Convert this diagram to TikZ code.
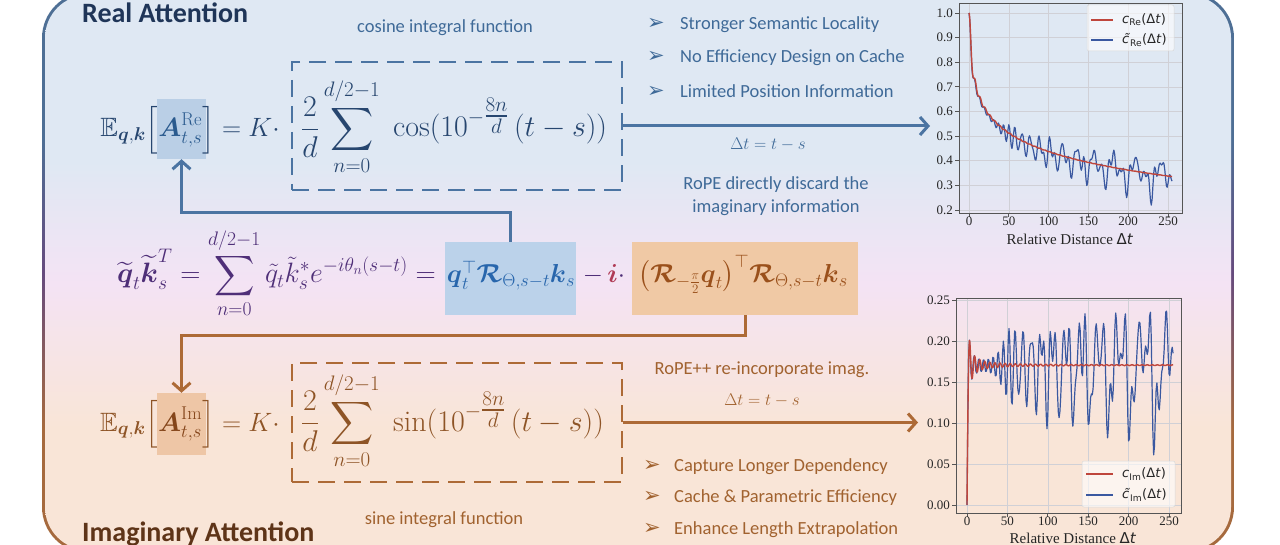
\RequirePackage{fix-cm}
\documentclass[tikz,border=0pt]{standalone}
\usepackage{amsmath,amssymb}
\usepackage{fontspec}
\newfontfamily\carlito{Carlito}
\newfontfamily\dejavu{DejaVu Sans}
\newfontfamily\libserif{Liberation Serif}
\usetikzlibrary{arrows.meta}

\definecolor{cNavy}{HTML}{1F3558}
\definecolor{cDarkBrown}{HTML}{5E3418}
\definecolor{cBlueTxt}{HTML}{3F6A98}
\definecolor{cBrownTxt}{HTML}{A1622F}
\definecolor{cBlueMath}{HTML}{27466F}
\definecolor{cBlueA}{HTML}{2A5A8E}
\definecolor{cBrownMath}{HTML}{8E5426}
\definecolor{cBrownA}{HTML}{84451A}
\definecolor{cPurple}{HTML}{4F2F78}
\definecolor{cBlueHL}{HTML}{BBD2EA}
\definecolor{cBlueBold}{HTML}{2866AC}
\definecolor{cOrangeHL}{HTML}{F0C9A5}
\definecolor{cOrangeTxt}{HTML}{9A501B}
\definecolor{cRedI}{HTML}{B03A55}
\definecolor{cBlueLine}{HTML}{4B74A2}
\definecolor{cBrownLine}{HTML}{AD6A36}
\definecolor{cHLRe}{HTML}{BACFE6}
\definecolor{cHLIm}{HTML}{EEC6A6}
\definecolor{bgTop}{HTML}{DFE8F3}
\definecolor{bgMid}{HTML}{F4E3F4}
\definecolor{bgBot}{HTML}{F9E5D7}
\definecolor{bordTop}{HTML}{4E6F95}
\definecolor{bordMid}{HTML}{664B7E}
\definecolor{bordBot}{HTML}{A66A3E}
\definecolor{plRed}{HTML}{BF463C}
\definecolor{plBlue}{HTML}{3A58A0}
\definecolor{plGrid}{HTML}{D0D0D6}
\definecolor{plFrame}{HTML}{555555}

\pgfdeclareverticalshading{bgshade}{100bp}{color(0bp)=(bgBot); color(36bp)=(bgBot); color(49bp)=(bgMid); color(60bp)=(bgTop); color(100bp)=(bgTop)}
\pgfdeclareverticalshading{bordshade}{100bp}{color(0bp)=(bordBot); color(36bp)=(bordBot); color(50bp)=(bordMid); color(62bp)=(bordTop); color(100bp)=(bordTop)}

\makeatletter
\newcount\rp@n
\newdimen\rp@c
\newdimen\rp@s
\rp@n=0
\loop
  \pgfmathparse{57.29578*exp(-0.1439115*\the\rp@n)}%
  \expandafter\xdef\csname rpth@\the\rp@n\endcsname{\pgfmathresult}%
  \advance\rp@n by 1
\ifnum\rp@n<64 \repeat
\gdef\rpBlueRe{(0,1)}
\gdef\rpBlueIm{(0,0)}
\foreach \t in {1,...,255}{%
  \rp@c=0pt \rp@s=0pt \rp@n=0
  \loop
    \pgfmathmultiply@{\t}{\csname rpth@\the\rp@n\endcsname}%
    \let\rp@ang\pgfmathresult
    \pgfmathcos@{\rp@ang}\advance\rp@c by \pgfmathresult pt\relax
    \pgfmathsin@{\rp@ang}\advance\rp@s by \pgfmathresult pt\relax
    \advance\rp@n by 1
  \ifnum\rp@n<64 \repeat
  \divide\rp@c by 64
  \divide\rp@s by 64
  \xdef\rpBlueRe{\rpBlueRe (\t,\strip@pt\rp@c)}%
  \xdef\rpBlueIm{\rpBlueIm (\t,\strip@pt\rp@s)}%
}
\gdef\rpRedRe{(0,1)}
\gdef\rpRedIm{(0,0)}
\foreach \t in {0.25,0.5,0.75}{%
  \pgfmathsetmacro\rp@si{\t-\t^3/18+\t^5/600}%
  \pgfmathsetmacro\rp@cin{\t^2/4-\t^4/96+\t^6/4320}%
  \pgfmathsetmacro\rp@re{1-\rp@cin/9.21034}%
  \pgfmathsetmacro\rp@im{\rp@si/9.21034}%
  \xdef\rpRedRe{\rpRedRe (\t,\rp@re)}\xdef\rpRedIm{\rpRedIm (\t,\rp@im)}%
}
\def\rp@redpt#1{%
  \pgfmathsetmacro\rp@v{1/#1}%
  \pgfmathsetmacro\rp@u{\rp@v*\rp@v}%
  \pgfmathsetmacro\rp@f{\rp@v*(1+7.241163*\rp@u+2.463936*\rp@u*\rp@u)/(1+9.068580*\rp@u+7.157433*\rp@u*\rp@u)}%
  \pgfmathsetmacro\rp@g{\rp@u*(1+7.547478*\rp@u+1.564072*\rp@u*\rp@u)/(1+12.723684*\rp@u+15.723606*\rp@u*\rp@u)}%
  \pgfmathsetmacro\rp@cs{cos(#1*57.29578)}%
  \pgfmathsetmacro\rp@sn{sin(#1*57.29578)}%
  \pgfmathsetmacro\rp@re{1-(0.577216+ln(#1)-\rp@f*\rp@sn+\rp@g*\rp@cs)/9.21034}%
  \pgfmathsetmacro\rp@im{(1.570796-\rp@f*\rp@cs-\rp@g*\rp@sn)/9.21034}%
  \xdef\rpRedRe{\rpRedRe (#1,\rp@re)}\xdef\rpRedIm{\rpRedIm (#1,\rp@im)}%
}
\foreach \t in {1,1.5,...,20}{\rp@redpt{\t}}
\foreach \t in {21,...,255}{\rp@redpt{\t}}
\newcommand\rpplot[2]{\edef\rp@tmp{\noexpand\draw[#1] plot coordinates {#2};}\rp@tmp}
\makeatother

\newcommand\bul[2]{\makebox[#1][l]{\dejavu\fontsize{21}{21}\selectfont ➢}#2}
\newcommand\lgd[2]{{\dejavu #1}\textsubscript{\dejavu #2}{\dejavu(Δ\textit{t})}}
\newcommand\expo{10^{-{\textstyle\frac{8n}{d}}}}

\tikzset{
  bluec/.style={draw=cBlueLine, line width=3pt},
  brownc/.style={draw=cBrownLine, line width=3pt},
  tipa/.style={-{Straight Barb[length=8pt,width=18pt]}},
  dashbox/.style={line width=2.6pt, dash pattern=on 17pt off 9pt, inner sep=0, minimum width=330pt},
  hl/.style={inner sep=0, minimum width=49pt, minimum height=60pt},
  hibox/.style={inner sep=0, minimum height=73pt},
  title/.style={font=\carlito\bfseries\fontsize{28}{32}\selectfont, inner sep=0},
  lbl/.style={font=\carlito\fontsize{18.5}{23}\selectfont, inner sep=0},
  eqL/.style={font=\fontsize{26.5}{30}\selectfont, inner sep=0},
  eqR/.style={font=\fontsize{30}{34}\selectfont, inner sep=0},
  eqM/.style={font=\fontsize{28}{32}\selectfont, inner sep=0},
  eq/.style={font=\fontsize{26}{30}\selectfont, inner sep=0},
  eqs/.style={font=\fontsize{17}{20}\selectfont, inner sep=0},
  tick/.style={font=\libserif\fontsize{13}{15}\selectfont, inner sep=0, text=black!85},
  xlab/.style={font=\libserif\fontsize{15}{17}\selectfont, inner sep=0, text=black!85},
  lgdt/.style={font=\fontsize{13}{15}\selectfont, inner sep=0, anchor=west, text=black!85},
  gridl/.style={draw=plGrid, line width=0.6pt},
  framel/.style={draw=plFrame, line width=0.8pt},
  redline/.style={draw=plRed, line width=1.4pt, line join=round},
  blueline/.style={draw=plBlue, line width=1.2pt, line join=round},
  legbox/.style={fill=white, fill opacity=0.6, draw=black!15, line width=0.5pt, rounded corners=2pt},
}

\begin{document}
\begin{tikzpicture}[x=1pt, y=-1pt]
\useasboundingbox (0,0) rectangle (1280,545);
\fill[white] (0,0) rectangle (1280,545);
% panel
\shade[shading=bordshade, rounded corners=46pt] (42,-8) rectangle (1234,553);
\shade[shading=bgshade, rounded corners=43pt] (45,-5) rectangle (1231,550);

% titles and labels
\node[title, text=cNavy, anchor=base west] (tRe) at (82,23) {Real Attention};
\node[title, text=cDarkBrown, anchor=base west] (tIm) at (82,541) {Imaginary Attention};
\node[lbl, text=cBlueTxt] (cosl) at (445,28) {cosine integral function};
\node[lbl, text=cBrownTxt] (sinl) at (444,520) {sine integral function};

% bullets
\node[lbl, text=cBlueTxt, anchor=west] (b1) at (647,25) {\bul{33pt}{Stronger Semantic Locality}};
\node[lbl, text=cBlueTxt, anchor=west] (b2) at (647,58) {\bul{33pt}{No Efficiency Design on Cache}};
\node[lbl, text=cBlueTxt, anchor=west] (b3) at (647,91) {\bul{33pt}{Limited Position Information}};
\node[lbl, text=cBrownTxt, anchor=west] (b4) at (643,467) {\bul{31pt}{Capture Longer Dependency}};
\node[lbl, text=cBrownTxt, anchor=west] (b5) at (643,498) {\bul{31pt}{Cache \& Parametric Efficiency}};
\node[lbl, text=cBrownTxt, anchor=west] (b6) at (643,530) {\bul{31pt}{Enhance Length Extrapolation}};

\node[eqs, text=cBlueTxt] (dtRe) at (768,144) {$\Delta t = t - s$};
\node[lbl, text=cBlueTxt, align=center] (disc) at (776,196) {RoPE directly discard the\\imaginary information};
\node[lbl, text=cBrownTxt] (plus) at (762,370) {RoPE++ re-incorporate imag.};
\node[eqs, text=cBrownTxt] (dtIm) at (762,400) {$\Delta t = t - s$};

% highlights
\node[hl, fill=cHLRe] (hRe) at (181.5,129) {};
\node[hl, fill=cHLIm, minimum height=62pt] (hIm) at (181.5,424) {};
\node[hibox, fill=cBlueHL, minimum width=131pt] (qk) at (510.5,278.5) {};
\node[hibox, fill=cOrangeHL, minimum width=226pt] (ob) at (745,278.5) {};

% dashed boxes
\node[dashbox, draw=cBlueLine, minimum height=128pt] (dRe) at (457,126) {};
\node[dashbox, draw=cBrownLine, minimum height=119pt] (dIm) at (457,422.5) {};

% formulas
\node[eqL, text=cBlueMath, anchor=base east] (fReL) at (280,137)
  {$\mathbb{E}_{\boldsymbol{q},\boldsymbol{k}}\Bigl[{\color{cBlueA}\boldsymbol{A}^{\mathrm{Re}}_{t,s}}\Bigr] = K\cdot$};
\node[eqR, text=cBlueMath, anchor=base west] (fReR) at (301,137)
  {$\displaystyle\frac{2}{d}\sum_{n=0}^{d/2-1}\;\cos(\expo\,(t-s))$};
\node[eqL, text=cBrownMath, anchor=base east] (fImL) at (280,431)
  {$\mathbb{E}_{\boldsymbol{q},\boldsymbol{k}}\Bigl[{\color{cBrownA}\boldsymbol{A}^{\mathrm{Im}}_{t,s}}\Bigr] = K\cdot$};
\node[eqR, text=cBrownMath, anchor=base west] (fImR) at (301,431)
  {$\displaystyle\frac{2}{d}\sum_{n=0}^{d/2-1}\;\sin(\expo\,(t-s))$};
\node[eqM, text=cPurple, anchor=base east] (fMid) at (436,283)
  {$\widetilde{\boldsymbol{q}}_t\widetilde{\boldsymbol{k}}_s^{T} = \displaystyle\sum_{n=0}^{d/2-1}\tilde{q}_t\tilde{k}_s^{*}e^{-i\theta_n(s-t)} =$};
\node[eq, text=cBlueBold, anchor=base] (qkT) at (511,283)
  {$\boldsymbol{q}_t^{\top}\boldsymbol{\mathcal{R}}_{\Theta,s-t}\boldsymbol{k}_s$};
\node[eq, text=cPurple, anchor=base] (minusi) at (604,283)
  {$-\,{\color{cRedI}\boldsymbol{i}}\cdot$};
\node[eq, text=cOrangeTxt, anchor=base] (obT) at (743,283)
  {$\bigl(\boldsymbol{\mathcal{R}}_{-\frac{\pi}{2}}\boldsymbol{q}_t\bigr)^{\top}\boldsymbol{\mathcal{R}}_{\Theta,s-t}\boldsymbol{k}_s$};

% connectors
\coordinate (tipRe) at (930,126);
\coordinate (tipIm) at (918,422.5);
\draw[bluec, tipa] (dRe.east) -- (tipRe);
\draw[brownc, tipa] (dIm.east) -- (tipIm);
\draw[bluec, tipa] (qk.north) -- ++(0,-29) -| (hRe.south);
\draw[brownc, tipa] (ob.south) -- ++(0,20) -| (hIm.north);

% ---------- top plot ----------
\begin{scope}[shift={(969,259.25)}, x=0.796pt, y=246.25pt]
  \foreach \gx in {0,50,...,250} \draw[gridl] (\gx,0.1878) -- (\gx,1.0406);
  \foreach \gy in {0.2,0.3,0.4,0.5,0.6,0.7,0.8,0.9,1.0} \draw[gridl] (-12.56,\gy) -- (267.6,\gy);
  \rpplot{blueline}{\rpBlueRe}
  \rpplot{redline}{\rpRedRe}
  \draw[framel] (-12.56,0.1878) rectangle (267.6,1.0406);
  \foreach \gy in {0.2,0.3,0.4,0.5,0.6,0.7,0.8,0.9,1.0} {
    \draw[framel] (-12.56,\gy) -- ++(-4pt,0);
    \node[tick, anchor=east] at ([xshift=-6pt]-12.56,\gy) {\gy};
  }
  \foreach \gx in {0,50,...,250} {
    \draw[framel] (\gx,0.1878) -- ++(0,-4pt);
    \node[tick, anchor=north] at ([yshift=-4pt]\gx,0.1878) {\gx};
  }
\end{scope}
\node[xlab] (xlRe) at (1070,239) {Relative Distance {\dejavu Δ\textit{t}}};
\draw[legbox] (1087,5) rectangle (1174,51);
\draw[redline] (1091,20) -- (1113,20);
\draw[blueline] (1091,40) -- (1113,40);
\node[lgdt] (l1) at (1122,20) {\lgd{\textit{c}}{Re}};
\node[lgdt] (l2) at (1122,40) {\lgd{\textit{c̃}}{Re}};

% ---------- bottom plot ----------
\begin{scope}[shift={(967,505)}, x=0.808pt, y=820pt]
  \foreach \gx in {0,50,...,250} \draw[gridl] (\gx,-0.00976) -- (\gx,0.2520);
  \foreach \gy in {0.00,0.05,0.10,0.15,0.20,0.25} \draw[gridl] (-13.6,\gy) -- (265.5,\gy);
  \rpplot{blueline}{\rpBlueIm}
  \rpplot{redline}{\rpRedIm}
  \draw[framel] (-13.6,-0.00976) rectangle (265.5,0.2520);
  \foreach \gy in {0.00,0.05,0.10,0.15,0.20,0.25} {
    \draw[framel] (-13.6,\gy) -- ++(-4pt,0);
    \node[tick, anchor=east] at ([xshift=-6pt]-13.6,\gy) {\gy};
  }
  \foreach \gx in {0,50,...,250} {
    \draw[framel] (\gx,-0.00976) -- ++(0,-4pt);
    \node[tick, anchor=north] at ([yshift=-4pt]\gx,-0.00976) {\gx};
  }
\end{scope}
\node[xlab] (xlIm) at (1073,538) {Relative Distance {\dejavu Δ\textit{t}}};
\draw[legbox] (1082,461) rectangle (1175,507);
\draw[redline] (1086,474) -- (1113,474);
\draw[blueline] (1086,495) -- (1113,495);
\node[lgdt] (l3) at (1122,474) {\lgd{\textit{c}}{Im}};
\node[lgdt] (l4) at (1122,495) {\lgd{\textit{c̃}}{Im}};
\end{tikzpicture}
\end{document}
